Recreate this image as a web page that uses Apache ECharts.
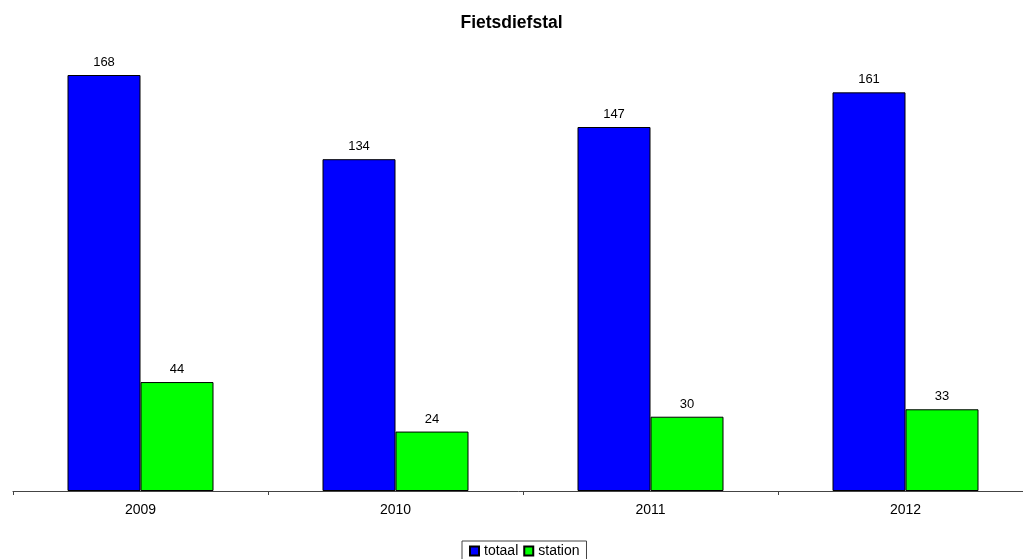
<!DOCTYPE html>
<html>
<head>
<meta charset="utf-8">
<script src="https://cdn.jsdelivr.net/npm/echarts@6/dist/echarts.min.js"></script>
<style>
  html, body { margin: 0; padding: 0; background: #fff; }
  #chart { width: 1023px; height: 559px; }
</style>
</head>
<body>
<div id="chart"></div>
<script>
// data
var years = ['2009', '2010', '2011', '2012']
var totaal = [168, 134, 147, 161]
var station = [44, 24, 30, 33]

var chart = echarts.init(document.getElementById('chart'))
var font = 'Liberation Sans, Arial, sans-serif'

function barLabel() {
  return {
    show: true,
    position: 'top',
    distance: 6,
    fontFamily: font,
    fontSize: 13,
    color: '#000'
  }
}

chart.setOption({
  backgroundColor: '#fff',
  animation: false,
  title: {
    text: 'Fietsdiefstal',
    left: 'center',
    top: 9,
    textStyle: {
      fontFamily: font,
      fontSize: 17.5,
      fontWeight: 'bold',
      color: '#000'
    }
  },
  legend: {
    top: 541,
    left: 462,
    padding: [3, 7, 3, 7],
    borderColor: '#444',
    borderWidth: 1,
    borderRadius: 0,
    itemWidth: 9,
    itemHeight: 9,
    itemGap: 5,
    icon: 'rect',
    textStyle: {
      fontFamily: font,
      fontSize: 14,
      color: '#000'
    },
    data: ['totaal', 'station']
  },
  grid: {
    left: 13,
    width: 1020,
    top: 45.3,
    bottom: 68,
    outerBoundsMode: 'none'
  },
  xAxis: {
    type: 'category',
    data: years,
    axisLine: { lineStyle: { color: '#444', width: 1 } },
    axisTick: { show: true, length: 4, lineStyle: { color: '#444' } },
    axisLabel: {
      margin: 12,
      fontFamily: font,
      fontSize: 14,
      color: '#000'
    }
  },
  yAxis: {
    type: 'value',
    min: 0,
    max: 180,
    show: false,
    splitLine: { show: false }
  },
  series: [
    {
      name: 'totaal',
      type: 'bar',
      data: totaal,
      barWidth: 73,
      barGap: '0%',
      itemStyle: { color: '#0000ff', borderColor: '#000', borderWidth: 1 },
      label: barLabel()
    },
    {
      name: 'station',
      type: 'bar',
      data: station,
      barWidth: 73,
      barGap: '0%',
      itemStyle: { color: '#00ff00', borderColor: '#000', borderWidth: 1 },
      label: barLabel()
    }
  ]
})
</script>
</body>
</html>
